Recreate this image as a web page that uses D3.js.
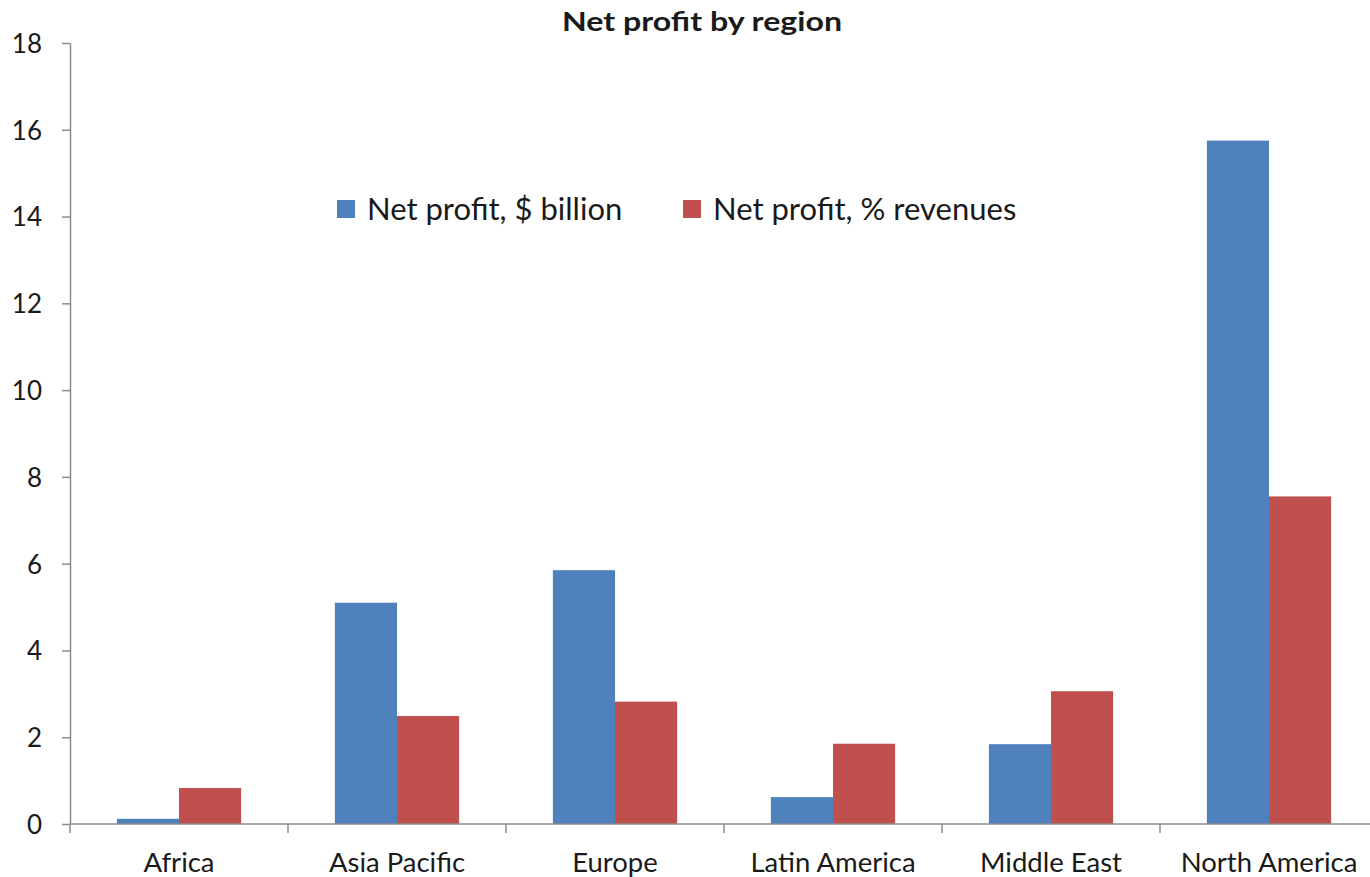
<!DOCTYPE html>
<html>
<head>
<meta charset="utf-8">
<script src="https://cdn.jsdelivr.net/npm/d3@7"></script>
<style>
  html, body { margin: 0; padding: 0; background: #fff; }
  svg { display: block; font-family: Lato, "Open Sans", sans-serif; }
</style>
</head>
<body>
<svg id="chart" width="1370" height="877"></svg>
<script>
// Regions and the two net-profit series
const regions = ["Africa", "Asia Pacific", "Europe", "Latin America", "Middle East", "North America"];
const profitBillion = [0.12, 5.1, 5.85, 0.62, 1.84, 15.75];
const profitPctRevenue = [0.83, 2.49, 2.82, 1.85, 3.06, 7.55];
const seriesNames = ["Net profit, $ billion", "Net profit, % revenues"];
const seriesColors = ["#4F81BD", "#C0504D"];
const yTicks = [0, 2, 4, 6, 8, 10, 12, 14, 16, 18];

const svg = d3.select("#chart");
const plotLeft = 70, plotTop = 43, plotBottom = 824, step = 218;
const axisColor = "#8c8c8c";
const textColor = "#1a1a1a";

const x = d3.scaleBand()
  .domain(regions)
  .range([plotLeft, plotLeft + step * regions.length])
  .paddingInner(0.43)
  .paddingOuter(0.215);

const x1 = d3.scaleBand()
  .domain([0, 1])
  .range([0, x.bandwidth()]);

const y = d3.scaleLinear().domain([0, 18]).range([plotBottom, plotTop]);

// Bars
const rows = regions.map((r, i) => ({ region: r, values: [profitBillion[i], profitPctRevenue[i]] }));
const groups = svg.append("g").selectAll("g")
  .data(rows).join("g")
  .attr("transform", d => `translate(${x(d.region)},0)`);
groups.selectAll("rect")
  .data(d => d.values.map((v, k) => ({ v, k })))
  .join("rect")
  .attr("x", d => x1(d.k))
  .attr("width", x1.bandwidth())
  .attr("y", d => y(d.v))
  .attr("height", d => y(0) - y(d.v))
  .attr("fill", d => seriesColors[d.k]);

// Y axis
const yAxis = svg.append("g")
  .attr("transform", `translate(${plotLeft},0)`)
  .call(d3.axisLeft(y).tickValues(yTicks).tickSize(8).tickSizeOuter(0).tickPadding(20))
  .attr("font-family", null)
  .attr("font-size", null);
yAxis.select(".domain").attr("stroke", axisColor).attr("stroke-width", 1.5);
yAxis.selectAll(".tick line").attr("stroke", axisColor).attr("stroke-width", 1.5);
yAxis.selectAll(".tick text").attr("font-size", 26).attr("fill", textColor).attr("dy", "0.36em");

// X axis with ticks between categories
const xAxisG = svg.append("g");
xAxisG.append("line")
  .attr("x1", plotLeft).attr("x2", 1370)
  .attr("y1", y(0)).attr("y2", y(0))
  .attr("stroke", axisColor).attr("stroke-width", 1.5);
const boundaries = d3.range(regions.length + 1).map(i => plotLeft + step * i);
xAxisG.selectAll("line.sep")
  .data(boundaries).join("line")
  .attr("class", "sep")
  .attr("x1", d => d).attr("x2", d => d)
  .attr("y1", y(0)).attr("y2", y(0) + 9)
  .attr("stroke", axisColor).attr("stroke-width", 1.5);
xAxisG.selectAll("text")
  .data(regions).join("text")
  .attr("x", d => x(d) + x.bandwidth() / 2)
  .attr("y", 872)
  .attr("text-anchor", "middle")
  .attr("font-size", 27.5)
  .attr("fill", textColor)
  .text(d => d);

// Title
svg.append("text")
  .attr("x", 702).attr("y", 31)
  .attr("text-anchor", "middle")
  .attr("font-size", 26)
  .attr("font-weight", "bold")
  .attr("fill", textColor)
  .attr("textLength", 280)
  .attr("lengthAdjust", "spacingAndGlyphs")
  .text("Net profit by region");

// Legend
const legendX = [337, 683];
const legend = svg.append("g").selectAll("g")
  .data(seriesNames).join("g")
  .attr("transform", (d, i) => `translate(${legendX[i]},209)`);
legend.append("rect")
  .attr("x", 0).attr("y", -9)
  .attr("width", 18).attr("height", 18)
  .attr("fill", (d, i) => seriesColors[i]);
legend.append("text")
  .attr("x", 30).attr("y", 0)
  .attr("dy", "0.36em")
  .attr("font-size", 31)
  .attr("fill", textColor)
  .text(d => d);
</script>
</body>
</html>
